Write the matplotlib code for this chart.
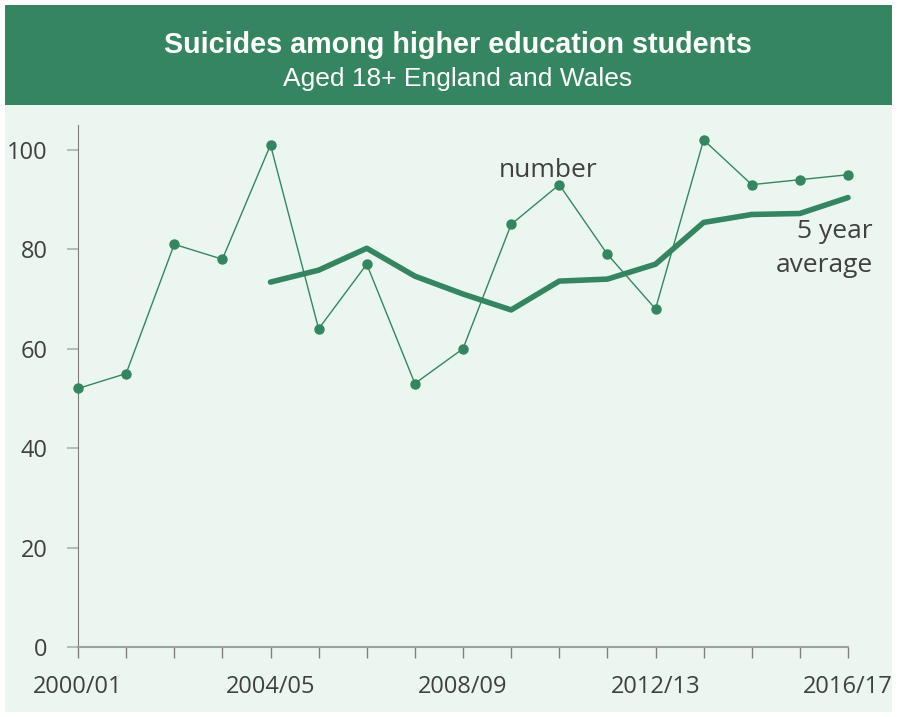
import matplotlib.pyplot as plt
from matplotlib.patches import Rectangle

plt.rcParams["font.family"] = ["Open Sans", "DejaVu Sans"]

# ======= data =======
years = ["2000/01", "2001/02", "2002/03", "2003/04", "2004/05", "2005/06",
         "2006/07", "2007/08", "2008/09", "2009/10", "2010/11", "2011/12",
         "2012/13", "2013/14", "2014/15", "2015/16", "2016/17"]
number = [52, 55, 81, 78, 101, 64, 77, 53, 60, 85, 93, 79, 68, 102, 93, 94, 95]
# 5 year average, starts at 2004/05
avg_years = years[4:]
avg_5yr = [73.4, 75.8, 80.2, 74.6, 71.0, 67.8, 73.6, 74.0, 77.0, 85.4, 87.0, 87.2, 90.4]

shown_labels = ["2000/01", "2004/05", "2008/09", "2012/13", "2016/17"]

green = "#358660"
bg = "#EBF6F0"
txt = "#404040"

fig = plt.figure(figsize=(8.97, 7.17), dpi=100)
fig.patch.set_facecolor("white")

# header band + light background
fig.patches.append(Rectangle((5 / 897, 1 - 105 / 717), 887 / 897, 100 / 717,
                             transform=fig.transFigure, facecolor=green, edgecolor="none", zorder=-5))
fig.patches.append(Rectangle((5 / 897, 1 - 712 / 717), 887 / 897, 607 / 717,
                             transform=fig.transFigure, facecolor=bg, edgecolor="none", zorder=-5))

fig.text(458 / 897, 1 - 45 / 717, "Suicides among higher education students", ha="center", va="center",
         color="white", fontsize=20.7, fontweight="bold", family="Liberation Sans")
fig.text(458 / 897, 1 - 79 / 717, "Aged 18+ England and Wales", ha="center", va="center",
         color="white", fontsize=19, family="Liberation Sans")

ax = fig.add_axes([78 / 897, 1 - 647 / 717, 770 / 897, 522 / 717])
ax.set_facecolor("none")

x = list(range(len(years)))
xa = [years.index(y) for y in avg_years]

ax.plot(x, number, color=green, linewidth=1, marker="o", markersize=6.5, clip_on=False, zorder=3)
ax.plot(xa, avg_5yr, color=green, linewidth=4, solid_capstyle="round", clip_on=False, zorder=2)

ax.set_xlim(0, len(years) - 1)
ax.set_ylim(0, 105)
ax.set_yticks([0, 20, 40, 60, 80, 100])
ax.set_xticks(x)
ax.set_xticklabels([y if y in shown_labels else "" for y in years])

for s in ["top", "right"]:
    ax.spines[s].set_visible(False)
ax.spines["left"].set_color("#7f7f7f")
ax.spines["bottom"].set_color("#a0a0a0")
ax.spines["bottom"].set_linewidth(1.5)
ax.tick_params(axis="y", colors="#b0b0b0", length=8, width=1.2, labelcolor=txt, labelsize=17, pad=14)
ax.tick_params(axis="x", colors="#808080", length=8, width=1, labelcolor=txt, labelsize=17, pad=12)

ax.text(9.77, 95.8, "number", ha="center", va="center", color=txt, fontsize=19)
ax.text(16.52, 80.2, "5 year\naverage", ha="right", va="center", color=txt, fontsize=19,
        linespacing=1.45)

plt.savefig("out.png", dpi=100)
